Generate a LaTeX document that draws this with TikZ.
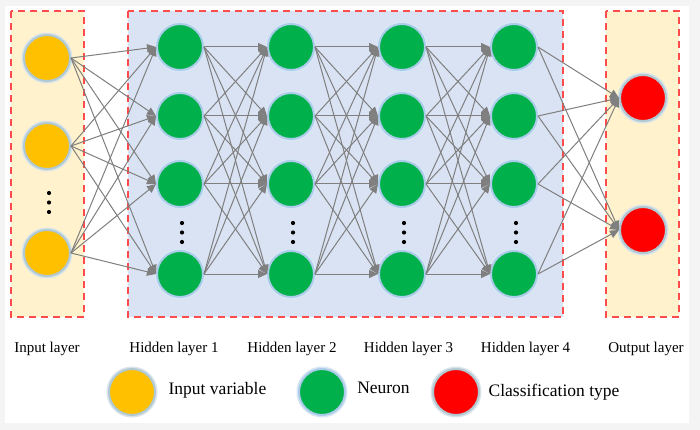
\documentclass[tikz,border=0pt]{standalone}
\usepackage{fontspec}
\setmainfont{Liberation Serif}
\usetikzlibrary{arrows.meta}
\definecolor{bgray}{HTML}{F4F4F4}
\definecolor{boxyellow}{HTML}{FFF2CC}
\definecolor{boxblue}{HTML}{DAE3F3}
\definecolor{dashred}{HTML}{FF4B4B}
\definecolor{nyellow}{HTML}{FFC000}
\definecolor{ngreen}{HTML}{00B04A}
\definecolor{nred}{HTML}{FF0000}
\definecolor{glowblue}{HTML}{9DC3E6}
\definecolor{glowgray}{HTML}{A3BFCB}
\definecolor{conngray}{HTML}{7F7F7F}
\tikzset{
  layerbox/.style={draw=dashred, line width=1.1pt, dash pattern=on 7pt off 5pt},
  neuronbase/.style={circle, minimum size=46pt, inner sep=0pt, line width=2pt,
     preaction={draw=#1!40, line width=5pt}, draw=#1!85},
  innode/.style={neuronbase=glowgray, fill=nyellow},
  hidnode/.style={neuronbase=glowblue, fill=ngreen},
  outnode/.style={neuronbase=glowgray, fill=nred},
  dotnode/.style={circle, fill=black, minimum size=4.2pt, inner sep=0pt},
  conn/.style={draw=conngray, line width=1pt, -{Triangle[length=9pt,width=8pt]}},
  layerlabel/.style={anchor=base, inner sep=0pt, font=\fontsize{15}{18}\selectfont},
  legendlabel/.style={anchor=base, inner sep=0pt, font=\fontsize{17.5}{21}\selectfont}
}
\begin{document}
\begin{tikzpicture}[x=1pt,y=-1pt]
\useasboundingbox (0,0) rectangle (700,430);
\fill[bgray] (0,0) rectangle (700,430);
\fill[white] (5,6) rectangle (689,423);
% layer boxes
\filldraw[layerbox, fill=boxyellow] (11,11) rectangle (84,317);
\filldraw[layerbox, fill=boxblue] (128,11) rectangle (563,317);
\filldraw[layerbox, fill=boxyellow] (606,11) rectangle (679,317);
% input nodes
\node[innode] (i1) at (47,58) {};
\node[innode] (i2) at (47,146) {};
\node[innode] (i3) at (47,253) {};
% hidden nodes
\foreach \l/\x in {1/180,2/291,3/402,4/514}{
  \node[hidnode] (h\l1) at (\x,47) {};
  \node[hidnode] (h\l2) at (\x,116) {};
  \node[hidnode] (h\l3) at (\x,184) {};
  \node[hidnode] (h\l4) at (\x,274) {};
  \node[dotnode] (d\l a) at (\x+2,223) {};
  \node[dotnode] (d\l b) at (\x+2,232.5) {};
  \node[dotnode] (d\l c) at (\x+2,242) {};
}
% output nodes
\node[outnode] (o1) at (643,98) {};
\node[outnode] (o2) at (643,230) {};
% input dots
\node[dotnode] (dia) at (49,193) {};
\node[dotnode] (dib) at (49,202.5) {};
\node[dotnode] (dic) at (49,212) {};
% connections
\foreach \a in {1,2,3}{
  \foreach \b in {1,2,3,4}{
    \draw[conn] (i\a.east) -- (h1\b.west);
  }
}
\foreach \l/\m in {1/2,2/3,3/4}{
  \foreach \a in {1,2,3,4}{
    \foreach \b in {1,2,3,4}{
      \draw[conn] (h\l\a.east) -- (h\m\b.west);
    }
  }
}
\foreach \a in {1,2,3,4}{
  \foreach \b in {1,2}{
    \draw[conn] (h4\a.east) -- (o\b.west);
  }
}
% layer labels
\node[layerlabel] (li) at (47,352) {Input layer};
\node[layerlabel] (lh1) at (174,352) {Hidden layer 1};
\node[layerlabel] (lh2) at (292,352) {Hidden layer 2};
\node[layerlabel] (lh3) at (408.5,352) {Hidden layer 3};
\node[layerlabel] (lh4) at (525.5,352) {Hidden layer 4};
\node[layerlabel] (lo) at (646,352) {Output layer};
% legend
\node[innode] (lg1) at (132,392) {};
\node[hidnode] (lg2) at (322,392) {};
\node[outnode] (lg3) at (456,392) {};
\node[legendlabel] (lt1) at (217.5,394) {Input variable};
\node[legendlabel] (lt2) at (383.5,393) {Neuron};
\node[legendlabel] (lt3) at (554,396) {Classification type};
\end{tikzpicture}
\end{document}
